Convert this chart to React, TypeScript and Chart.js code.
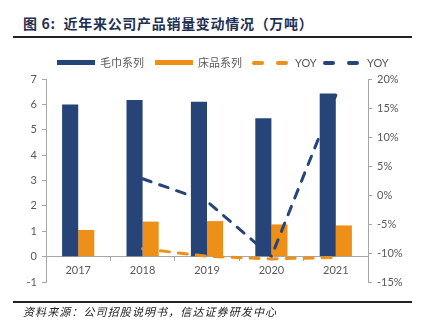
import React, { useEffect, useRef } from "react";
import { Chart, registerables } from "chart.js";

Chart.register(...registerables);

const categories = ["2017", "2018", "2019", "2020", "2021"];
const towelVolume = [6.0, 6.17, 6.1, 5.45, 6.43];
const beddingVolume = [1.05, 1.38, 1.4, 1.27, 1.23];
const beddingYoy = [null, 0.31, 0.015, -0.09, -0.03];
const towelYoy = [null, 2.8, -1.1, -10.6, 17.2];
const leftTicks = { min: -1, max: 7, step: 1 };
const rightTicks = { min: -15, max: 20, step: 5 };

const NAVY = "#264478";
const ORANGE = "#EE9018";
const GRAY = "#A6A6A6";
const TEXT = "#595959";
const TICK_FONT = { family: "Lato, 'Noto Sans', sans-serif", size: 11 };

export default function App() {
  const ref = useRef<HTMLCanvasElement | null>(null);

  useEffect(() => {
    if (!ref.current) return;
    const chart = new Chart(ref.current, {
      type: "bar",
      data: {
        labels: categories,
        datasets: [
          {
            type: "line",
            label: "YOY",
            data: beddingYoy,
            yAxisID: "y",
            borderColor: ORANGE,
            borderWidth: 3,
            borderDash: [9, 9],
            borderCapStyle: "round",
            pointRadius: 0,
            fill: false,
            order: 0,
          },
          {
            type: "line",
            label: "YOY ",
            data: towelYoy,
            yAxisID: "y1",
            borderColor: NAVY,
            borderWidth: 3,
            borderDash: [9, 9],
            borderCapStyle: "round",
            pointRadius: 0,
            fill: false,
            order: 0,
          },
          {
            type: "bar",
            label: "毛巾系列",
            data: towelVolume,
            yAxisID: "y",
            backgroundColor: NAVY,
            categoryPercentage: 0.5,
            barPercentage: 1.0,
            order: 1,
          },
          {
            type: "bar",
            label: "床品系列",
            data: beddingVolume,
            yAxisID: "y",
            backgroundColor: ORANGE,
            categoryPercentage: 0.5,
            barPercentage: 1.0,
            order: 1,
          },
        ],
      } as any,
      options: {
        animation: false,
        responsive: false,
        layout: { padding: { top: 79, bottom: 48, left: 0, right: 0 } },
        plugins: { legend: { display: false }, tooltip: { enabled: false } },
        scales: {
          x: {
            position: { y: 0 } as any,
            grid: {
              offset: true,
              drawOnChartArea: false,
              drawTicks: true,
              tickLength: 4,
              color: GRAY,
            },
            border: { display: true, color: GRAY },
            ticks: { color: TEXT, font: TICK_FONT, padding: 3 },
          },
          y: {
            position: "left",
            min: leftTicks.min,
            max: leftTicks.max,
            ticks: { stepSize: leftTicks.step, color: TEXT, font: TICK_FONT, padding: 5 },
            grid: { drawOnChartArea: false, tickLength: 4, color: GRAY },
            border: { display: true, color: GRAY },
            afterFit: (s: any) => {
              s.width = 46;
            },
          },
          y1: {
            position: "right",
            min: rightTicks.min,
            max: rightTicks.max,
            ticks: {
              stepSize: rightTicks.step,
              color: TEXT,
              font: TICK_FONT,
              padding: 5,
              callback: (v: any) => `${v}%`,
            },
            grid: { drawOnChartArea: false, tickLength: 4, color: GRAY },
            border: { display: true, color: GRAY },
            afterFit: (s: any) => {
              s.width = 53;
            },
          },
        },
      } as any,
    });
    return () => chart.destroy();
  }, []);

  const legendText: React.CSSProperties = {
    position: "absolute",
    top: 55,
    fontFamily: "'Noto Sans CJK SC', 'Noto Sans', sans-serif",
    fontSize: 11,
    lineHeight: "15px",
    color: TEXT,
    whiteSpace: "nowrap",
  };
  const dash = (left: number, color: string): React.CSSProperties => ({
    position: "absolute",
    left,
    top: 61,
    width: 12,
    height: 4,
    borderRadius: 2,
    background: color,
  });

  return (
    <div
      style={{
        position: "fixed",
        left: 0,
        top: 0,
        width: 421,
        height: 330,
        background: "#fff",
        overflow: "hidden",
      }}
    >
      <div
        style={{
          position: "absolute",
          left: 23,
          top: 13,
          fontFamily: "'Noto Sans CJK SC', sans-serif",
          fontWeight: 700,
          fontSize: 14,
          lineHeight: "20px",
          letterSpacing: 0.7,
          color: "#1F2F52",
          whiteSpace: "nowrap",
        }}
      >
        图 6:&nbsp;&nbsp;近年来公司产品销量变动情况（万吨）
      </div>
      <div
        style={{
          position: "absolute",
          left: 13,
          top: 36,
          width: 399,
          height: 2,
          background: "#222",
        }}
      />
      <canvas
        ref={ref}
        width={421}
        height={330}
        style={{ position: "absolute", left: 0, top: 0, width: 421, height: 330 }}
      />
      <div style={{ position: "absolute", left: 57, top: 60, width: 38, height: 5, background: NAVY }} />
      <div style={{ ...legendText, left: 100 }}>毛巾系列</div>
      <div style={{ position: "absolute", left: 155, top: 60, width: 38, height: 5, background: ORANGE }} />
      <div style={{ ...legendText, left: 198 }}>床品系列</div>
      <div style={dash(252, ORANGE)} />
      <div style={dash(276, ORANGE)} />
      <div style={{ ...legendText, left: 295, fontFamily: "Lato, sans-serif" }}>YOY</div>
      <div style={dash(323, NAVY)} />
      <div style={dash(347, NAVY)} />
      <div style={{ ...legendText, left: 367, fontFamily: "Lato, sans-serif" }}>YOY</div>
      <div
        style={{
          position: "absolute",
          left: 13,
          top: 301,
          width: 399,
          height: 2,
          background: "#222",
        }}
      />
      <div
        style={{
          position: "absolute",
          left: 23,
          top: 304,
          fontFamily: "'Noto Sans CJK SC', sans-serif",
          fontStyle: "italic",
          fontSize: 11,
          lineHeight: "15px",
          letterSpacing: 1.1,
          color: "#222",
          whiteSpace: "nowrap",
        }}
      >
        资料来源：公司招股说明书，信达证券研发中心
      </div>
    </div>
  );
}
